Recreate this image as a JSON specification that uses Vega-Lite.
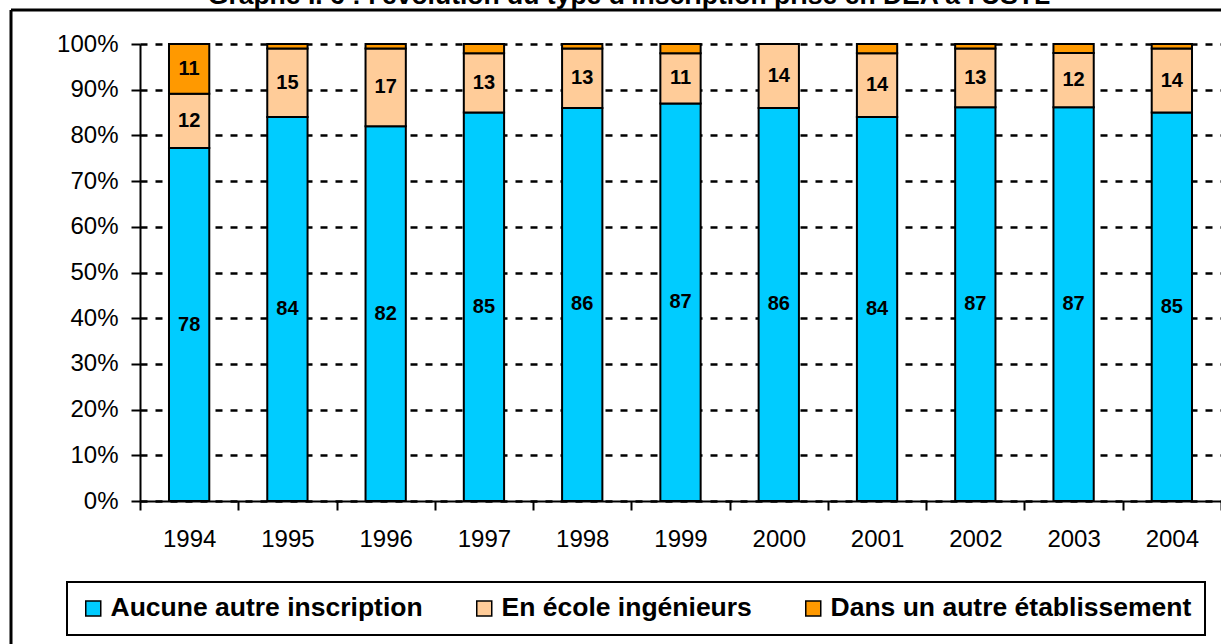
{
  "$schema": "https://vega.github.io/schema/vega-lite/v6.json",
  "width": 1210,
  "height": 634,
  "autosize": {"type": "none"},
  "padding": {"left": 11, "top": 10, "right": 0, "bottom": 0},
  "background": "white",
  "title": {
    "text": "Graphe I. 6 : l'évolution du type d'inscription prise en DEA à l'USTL",
    "anchor": "middle",
    "frame": "group",
    "font": "Liberation Sans",
    "fontSize": 26.5,
    "fontWeight": "bold",
    "color": "black",
    "baseline": "alphabetic",
    "offset": 0,
    "dy": 20,
    "dx": 13
  },
  "config": {
    "view": {"stroke": "black", "strokeWidth": 3, "strokeDash": [1210, 1844, 634, 0]},
    "font": "Liberation Sans",
    "legend": {"strokeColor": "black", "strokeWidth": 2, "padding": 13}
  },
  "data": {
    "values": [
      {"year": "1994", "type": "Aucune autre inscription", "order": 1, "pct": 78},
      {"year": "1994", "type": "En école ingénieurs", "order": 2, "pct": 12},
      {"year": "1994", "type": "Dans un autre établissement", "order": 3, "pct": 11},
      {"year": "1995", "type": "Aucune autre inscription", "order": 1, "pct": 84},
      {"year": "1995", "type": "En école ingénieurs", "order": 2, "pct": 15},
      {"year": "1995", "type": "Dans un autre établissement", "order": 3, "pct": 1},
      {"year": "1996", "type": "Aucune autre inscription", "order": 1, "pct": 82},
      {"year": "1996", "type": "En école ingénieurs", "order": 2, "pct": 17},
      {"year": "1996", "type": "Dans un autre établissement", "order": 3, "pct": 1},
      {"year": "1997", "type": "Aucune autre inscription", "order": 1, "pct": 85},
      {"year": "1997", "type": "En école ingénieurs", "order": 2, "pct": 13},
      {"year": "1997", "type": "Dans un autre établissement", "order": 3, "pct": 2},
      {"year": "1998", "type": "Aucune autre inscription", "order": 1, "pct": 86},
      {"year": "1998", "type": "En école ingénieurs", "order": 2, "pct": 13},
      {"year": "1998", "type": "Dans un autre établissement", "order": 3, "pct": 1},
      {"year": "1999", "type": "Aucune autre inscription", "order": 1, "pct": 87},
      {"year": "1999", "type": "En école ingénieurs", "order": 2, "pct": 11},
      {"year": "1999", "type": "Dans un autre établissement", "order": 3, "pct": 2},
      {"year": "2000", "type": "Aucune autre inscription", "order": 1, "pct": 86},
      {"year": "2000", "type": "En école ingénieurs", "order": 2, "pct": 14},
      {"year": "2000", "type": "Dans un autre établissement", "order": 3, "pct": 0},
      {"year": "2001", "type": "Aucune autre inscription", "order": 1, "pct": 84},
      {"year": "2001", "type": "En école ingénieurs", "order": 2, "pct": 14},
      {"year": "2001", "type": "Dans un autre établissement", "order": 3, "pct": 2},
      {"year": "2002", "type": "Aucune autre inscription", "order": 1, "pct": 87},
      {"year": "2002", "type": "En école ingénieurs", "order": 2, "pct": 13},
      {"year": "2002", "type": "Dans un autre établissement", "order": 3, "pct": 1},
      {"year": "2003", "type": "Aucune autre inscription", "order": 1, "pct": 87},
      {"year": "2003", "type": "En école ingénieurs", "order": 2, "pct": 12},
      {"year": "2003", "type": "Dans un autre établissement", "order": 3, "pct": 2},
      {"year": "2004", "type": "Aucune autre inscription", "order": 1, "pct": 85},
      {"year": "2004", "type": "En école ingénieurs", "order": 2, "pct": 14},
      {"year": "2004", "type": "Dans un autre établissement", "order": 3, "pct": 1}
    ]
  },
  "transform": [
    {"stack": "pct", "groupby": ["year"], "offset": "normalize", "sort": [{"field": "order", "order": "ascending"}], "as": ["v0", "v1"]}
  ],
  "encoding": {
    "x": {
      "field": "year",
      "type": "ordinal",
      "scale": {"range": [129, 1210], "paddingInner": 0, "paddingOuter": 0},
      "axis": {
        "orient": "bottom",
        "offset": -143,
        "title": null,
        "labelAngle": 0,
        "tickBand": "extent",
        "tickSize": 9,
        "tickWidth": 2,
        "tickColor": "black",
        "domainColor": "black",
        "domainWidth": 2,
        "labelFont": "Liberation Sans",
        "labelFontSize": 24,
        "labelColor": "black",
        "labelPadding": 17,
        "grid": false
      }
    }
  },
  "layer": [
    {
      "mark": {"type": "bar", "stroke": "black", "strokeWidth": 2, "width": {"band": 0.41}},
      "encoding": {
        "y": {
          "field": "v0",
          "type": "quantitative",
          "scale": {"domain": [0, 1], "range": [491, 34], "nice": false},
          "axis": {
            "orient": "left",
            "offset": -129,
            "title": null,
            "format": ".0%",
            "values": [0, 0.1, 0.2, 0.3, 0.4, 0.5, 0.6, 0.7, 0.8, 0.9, 1],
            "grid": true,
            "gridColor": "black",
            "gridDash": [7, 8],
            "gridWidth": 2.5,
            "gridOpacity": 1,
            "domainColor": "black",
            "domainWidth": 2,
            "tickColor": "black",
            "tickWidth": 2,
            "tickSize": 9,
            "labelFont": "Liberation Sans",
            "labelFontSize": 24,
            "labelColor": "black",
            "labelPadding": 13
          }
        },
        "y2": {"field": "v1"},
        "color": {
          "field": "type",
          "type": "nominal",
          "scale": {
            "domain": ["Aucune autre inscription", "En école ingénieurs", "Dans un autre établissement"],
            "range": ["#00CCFF", "#FFCC99", "#FF9900"]
          },
          "legend": {
            "orient": "none",
            "legendX": 56,
            "legendY": 572,
            "direction": "horizontal",
            "title": null,
            "symbolType": "square",
            "symbolSize": 225,
            "symbolStrokeColor": "black",
            "symbolStrokeWidth": 1.5,
            "symbolOpacity": 1,
            "labelFont": "Liberation Sans",
            "labelFontSize": 26.5,
            "labelFontWeight": "bold",
            "labelColor": "black",
            "labelOffset": 4,
            "labelLimit": 600,
            "columnPadding": 48
          }
        }
      }
    },
    {
      "transform": [
        {"filter": "datum.pct >= 5"},
        {"fold": ["v0", "v1"], "as": ["k", "pos"]}
      ],
      "mark": {"type": "text", "font": "Liberation Sans", "fontSize": 20, "fontWeight": "bold", "color": "black"},
      "encoding": {
        "y": {"field": "pos", "aggregate": "mean", "type": "quantitative"},
        "text": {"field": "pct", "type": "quantitative"},
        "detail": {"field": "type"}
      }
    }
  ]
}
